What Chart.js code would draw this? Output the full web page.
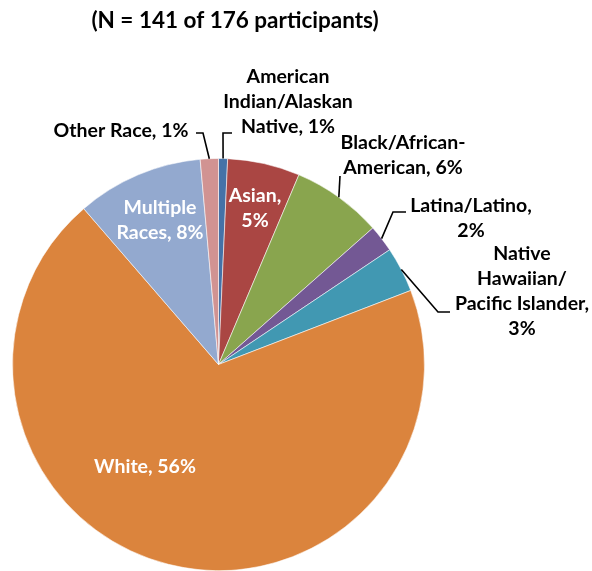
<!DOCTYPE html>
<html>
<head>
<meta charset="utf-8">
<script src="https://cdn.jsdelivr.net/npm/chart.js@4"></script>
<style>
  html, body { margin: 0; padding: 0; background: #fff; }
  canvas { display: block; }
</style>
</head>
<body>
<canvas id="raceChart" width="592" height="571"></canvas>
<script>
// participant counts by race (141 of 176 answered)
const categories = [
  'American Indian/Alaskan Native', 'Asian', 'Black/African-American', 'Latina/Latino',
  'Native Hawaiian/Pacific Islander', 'White', 'Multiple Races', 'Other Race'
];
const counts = [1, 8, 10, 3, 5, 98, 14, 2];
const percentLabels = ['1%', '5%', '6%', '2%', '3%', '56%', '8%', '1%'];
const totalParticipants = 176;
const answered = 141;

const sliceColors = ['#4572A7', '#AA4643', '#89A54E', '#735894', '#4198B2', '#DB843D', '#93A9CF', '#D19392'];

// label layout: text lines, where they go, and optional leader line elbow points
const labelLayout = [
  { lines: ['American', 'Indian/Alaskan', 'Native, 1%'], x: 288, y: 77, color: '#000', leader: [[232, 133], [223, 133]] },
  { lines: ['Asian,', '5%'], x: 255, y: 196, color: '#fff' },
  { lines: ['Black/African-', 'American, 6%'], x: 403, y: 143, color: '#000', leader: [[340, 176]] },
  { lines: ['Latina/Latino,', '2%'], x: 471, y: 206, color: '#000', leader: [[406, 212], [393, 212]] },
  { lines: ['Native', 'Hawaiian/', 'Pacific Islander,', '3%'], x: 522, y: 254, color: '#000', leader: [[450, 312], [438, 312]] },
  { lines: ['White, 56%'], x: 145, y: 467, color: '#fff' },
  { lines: ['Multiple', 'Races, 8%'], x: 160, y: 208, color: '#fff' },
  { lines: ['Other Race, 1%'], x: 121, y: 131, color: '#000', leader: [[196, 133], [203, 133]] }
];

const labelPlugin = {
  id: 'sliceLabels',
  afterDraw(chart) {
    const ctx = chart.ctx;
    const arcs = chart.getDatasetMeta(0).data;
    ctx.save();
    // title
    ctx.fillStyle = '#000';
    ctx.font = 'bold 22.5px Lato, "Noto Sans", sans-serif';
    ctx.textAlign = 'center';
    ctx.textBaseline = 'middle';
    ctx.fillText('(N = ' + answered + ' of ' + totalParticipants + ' participants)', 235, 21);

    labelLayout.forEach((lab, i) => {
      if (lab.leader) {
        const arc = arcs[i];
        const mid = (arc.startAngle + arc.endAngle) / 2;
        const ex = arc.x + Math.cos(mid) * arc.outerRadius;
        const ey = arc.y + Math.sin(mid) * arc.outerRadius;
        ctx.strokeStyle = '#000';
        ctx.lineWidth = 1.6;
        ctx.beginPath();
        ctx.moveTo(lab.leader[0][0], lab.leader[0][1]);
        for (let k = 1; k < lab.leader.length; k++) ctx.lineTo(lab.leader[k][0], lab.leader[k][1]);
        ctx.lineTo(ex, ey);
        ctx.stroke();
      }
      ctx.fillStyle = lab.color;
      ctx.font = 'bold 19.5px Lato, "Noto Sans", sans-serif';
      lab.lines.forEach((t, j) => ctx.fillText(t, lab.x, lab.y + j * 25));
    });
    ctx.restore();
  }
};

const ctx = document.getElementById('raceChart').getContext('2d');
const raceChart = new Chart(ctx, {
  type: 'pie',
  data: {
    labels: categories,
    datasets: [{
      data: counts,
      backgroundColor: sliceColors,
      borderColor: 'rgba(255,255,255,0.55)',
      borderWidth: 1
    }]
  },
  options: {
    responsive: false,
    animation: false,
    layout: { padding: { left: 12, right: 167, top: 158, bottom: 0 } },
    plugins: {
      legend: { display: false },
      tooltip: { enabled: false },
      title: { display: false }
    }
  },
  plugins: [labelPlugin]
});
</script>
</body>
</html>
